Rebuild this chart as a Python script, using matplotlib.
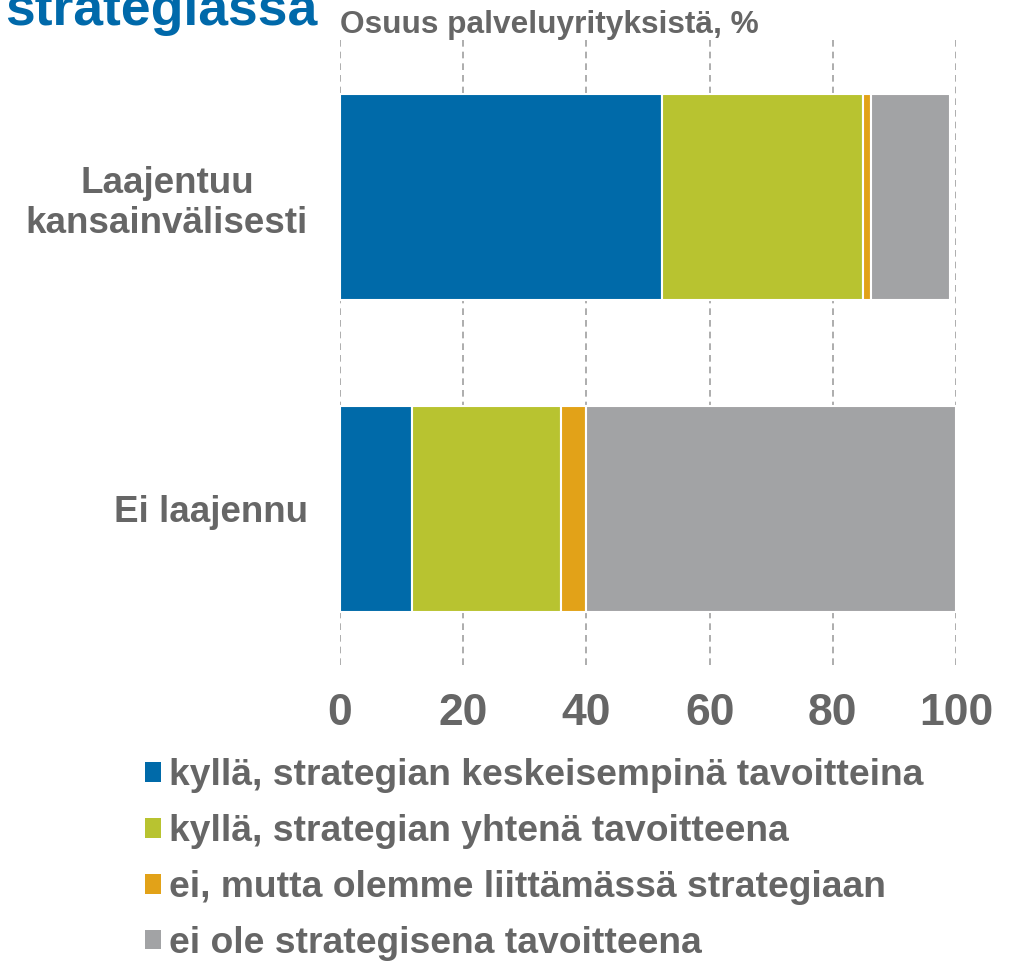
import matplotlib.pyplot as plt
from matplotlib.patches import Patch

plt.rcParams['font.family'] = ['Liberation Sans', 'DejaVu Sans']
plt.rcParams['font.weight'] = 'bold'

categories = ['Laajentuu\nkansainvälisesti', 'Ei laajennu']
series_labels = [
    'kyllä, strategian keskeisempinä tavoitteina',
    'kyllä, strategian yhtenä tavoitteena',
    'ei, mutta olemme liittämässä strategiaan',
    'ei ole strategisena tavoitteena',
]
values = [
    [52.3, 11.7],
    [32.6, 24.2],
    [1.3, 4.0],
    [12.8, 60.1],
]
colors = ['#006AA9', '#B8C330', '#E2A218', '#A2A3A5']
xticks = [0, 20, 40, 60, 80, 100]

text_color = '#666666'

fig = plt.figure(figsize=(10.09, 9.63), dpi=100)
ax = fig.add_axes([0.337, 0.3094, 0.6105, 0.6486])

ypos = [0, 1]
left = [0, 0]
for vals, col, lab in zip(values, colors, series_labels):
    ax.barh(ypos, vals, left=left, height=0.66, color=col, edgecolor='white',
            linewidth=1.5, label=lab, zorder=3)
    left = [l + v for l, v in zip(left, vals)]

ax.set_ylim(1.5, -0.5)
ax.set_xlim(0, 100)
ax.set_xticks(xticks)
ax.set_xticklabels([str(t) for t in xticks])
ax.set_yticks(ypos)
ax.set_yticklabels(categories, multialignment='center')

ax.grid(axis='x', color='#A0A0A0', linestyle=(0, (4, 3)), linewidth=1.2, zorder=0)
ax.grid(axis='y', visible=False)
for s in ax.spines.values():
    s.set_visible(False)
ax.tick_params(axis='x', length=0, pad=20, labelsize=32, labelcolor=text_color)
ax.tick_params(axis='y', length=0, pad=23, labelsize=26.5, labelcolor=text_color)

# title is partly above the top edge, as in the original slide crop
fig.text(0.005, 0.974, 'strategiassa', color='#0069AA', fontsize=38.5,
         fontweight='bold', ha='left', va='baseline')
fig.text(0.337, 0.966, 'Osuus palveluyrityksistä, %', color=text_color,
         fontsize=22.8, fontweight='bold', ha='left', va='baseline')

handles = [Patch(facecolor=c, edgecolor='none') for c in colors]
leg = fig.legend(handles, series_labels, loc='upper left',
                 bbox_to_anchor=(0.144, 0.2125), frameon=False,
                 prop={'size': 26.8, 'weight': 'bold'},
                 handlelength=0.43, handleheight=0.43, handletextpad=0.2,
                 labelspacing=0.56, borderpad=0, borderaxespad=0)
for t in leg.get_texts():
    t.set_color(text_color)

fig.savefig('out.png', dpi=100)
